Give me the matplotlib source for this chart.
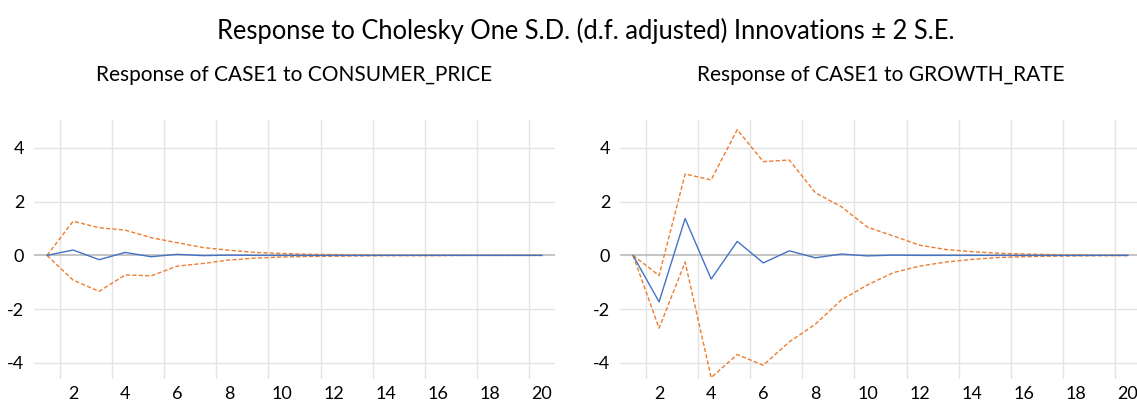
import numpy as np
import matplotlib
matplotlib.use("Agg")
import matplotlib.pyplot as plt

plt.rcParams['font.family'] = ['Lato', 'DejaVu Sans']

periods = list(range(1, 21))

# Response of CASE1 to CONSUMER_PRICE
cp_resp = [0, 0.20, -0.16, 0.11, -0.05, 0.04, -0.01, 0.01, 0, 0,
           0, 0, 0, 0, 0, 0, 0, 0, 0, 0]
cp_upper = [0, 1.27, 1.03, 0.94, 0.66, 0.47, 0.29, 0.19, 0.11, 0.07,
            0.04, 0.03, 0.02, 0.01, 0.01, 0.01, 0, 0, 0, 0]
cp_lower = [0, -0.92, -1.34, -0.73, -0.76, -0.40, -0.30, -0.17, -0.10, -0.06,
            -0.04, -0.03, -0.02, -0.01, -0.01, -0.01, 0, 0, 0, 0]

# Response of CASE1 to GROWTH_RATE
gr_resp = [0, -1.73, 1.37, -0.88, 0.52, -0.28, 0.17, -0.09, 0.05, -0.02,
           0.01, 0, 0, 0, 0, 0, 0, 0, 0, 0]
gr_upper = [0, -0.75, 3.03, 2.81, 4.68, 3.49, 3.55, 2.33, 1.81, 1.05,
            0.72, 0.38, 0.22, 0.14, 0.08, 0.05, 0.03, 0.02, 0.01, 0.01]
gr_lower = [0, -2.71, -0.25, -4.55, -3.69, -4.09, -3.22, -2.56, -1.66, -1.10,
            -0.64, -0.40, -0.25, -0.15, -0.08, -0.05, -0.03, -0.02, -0.01, -0.01]

titles = ["Response of CASE1 to CONSUMER_PRICE", "Response of CASE1 to GROWTH_RATE"]
panels = [(cp_resp, cp_upper, cp_lower), (gr_resp, gr_upper, gr_lower)]

blue = "#4472C4"
orange = "#ED7D31"
grid = "#E3E3E3"

fig = plt.figure(figsize=(11.37, 4.04), dpi=100)
fig.text(0.515, 0.924, "Response to Cholesky One S.D. (d.f. adjusted) Innovations \u00b1 2 S.E.",
         ha="center", va="center", fontsize=18.4)

lefts = [34 / 1137, 620 / 1137]
for i in range(2):
    ax = fig.add_axes([lefts[i], 0.062, 521 / 1137, 0.641])
    resp, up, lo = panels[i]
    ax.set_xlim(0.5, 20.5)
    ax.set_ylim(-4.6, 5.04)
    # gridlines at category boundaries like Excel
    for g in np.arange(1.5, 20, 2):
        ax.axvline(g, color=grid, lw=1, zorder=0)
    for y in [-4, -2, 2, 4]:
        ax.axhline(y, color=grid, lw=1, zorder=0)
    ax.axhline(0, color="#BFBFBF", lw=1.3, zorder=1)
    ax.plot(periods, up, color=orange, lw=1, dashes=(3, 1.6), zorder=2)
    ax.plot(periods, lo, color=orange, lw=1, dashes=(3, 1.6), zorder=2)
    ax.plot(periods, resp, color=blue, lw=1, zorder=3)
    ax.set_xticks(range(2, 21, 2))
    ax.set_yticks([-4, -2, 0, 2, 4])
    ax.set_yticklabels(["-4", "-2", "0", "2", "4"])
    ax.tick_params(length=0, labelsize=13, pad=7)
    ax.tick_params(axis="x", pad=5)
    for s in ax.spines.values():
        s.set_visible(False)
    fig.text(lefts[i] + 521 / 1137 / 2, 0.814, titles[i], ha="center", va="center", fontsize=15)

fig.savefig("out.png", dpi=100)
